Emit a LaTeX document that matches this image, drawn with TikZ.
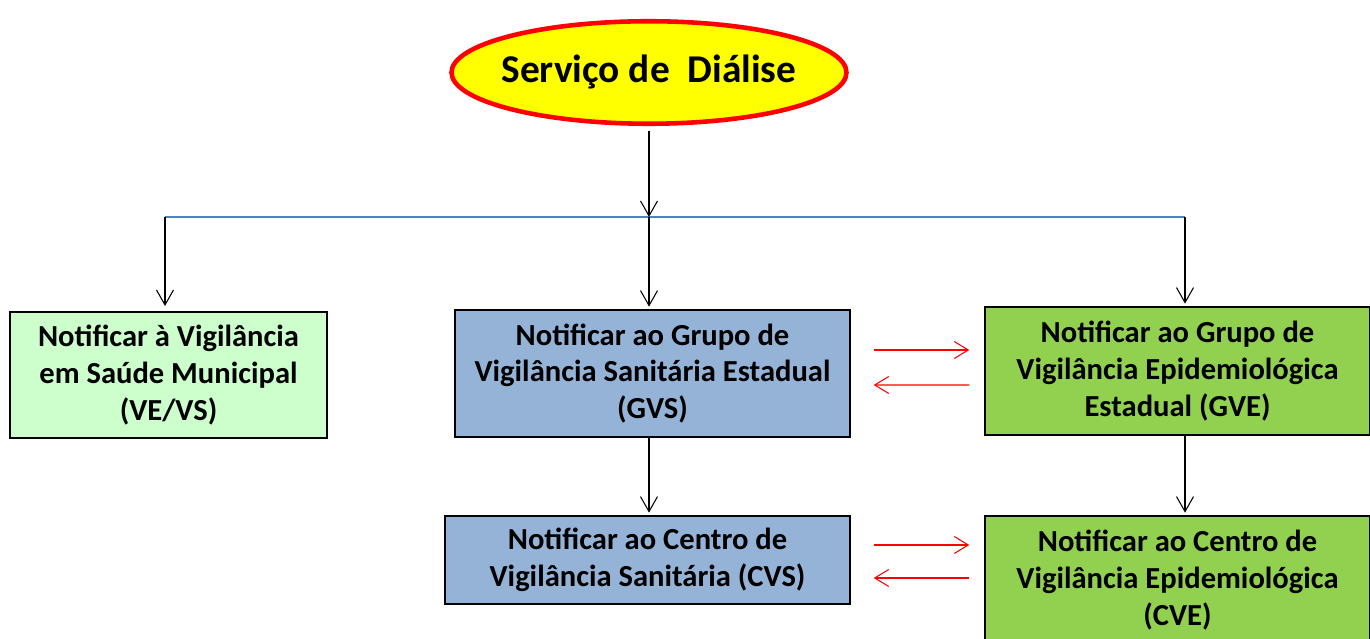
\documentclass[tikz,border=0pt]{standalone}
\usepackage{fontspec}
\setmainfont{Carlito}
\usetikzlibrary{arrows.meta,shapes.geometric,shadows}
\definecolor{amarelo}{HTML}{FFFF00}
\definecolor{verdeclaro}{HTML}{CCFFCC}
\definecolor{azulcaixa}{HTML}{95B3D7}
\definecolor{verdecaixa}{HTML}{92D050}
\definecolor{azullinha}{HTML}{4F81BD}
\begin{document}
\begin{tikzpicture}[
	caixa/.style={draw=black, line width=0.8pt, align=center, inner sep=0pt,
		font=\fontsize{17.4}{21}\selectfont\bfseries,
		drop shadow={shadow xshift=0.6pt, shadow yshift=-0.6pt, opacity=0.45}},
	seta/.style={-{Straight Barb[length=3mm,width=3.4mm]}, line width=0.6pt},
	setav/.style={-{Straight Barb[length=2.8mm,width=3.4mm]}, red, line width=0.6pt}
	]
	\useasboundingbox (0,0) rectangle (27.4,12.76);

	\node[ellipse, draw=red, line width=2.6pt, fill=amarelo, inner sep=0pt, minimum width=7.9cm, minimum height=2.05cm,
		font=\fontsize{22.4}{26}\selectfont\bfseries] (dialise) at (12.98,11.31) {\makebox[5cm]{Serviço de \ Diálise}};

	% caixas
	\node[caixa, fill=verdeclaro, minimum width=6.34cm, minimum height=2.52cm] (vevs) at (3.37,5.26)
		{Notificar à Vigilância\\em Saúde Municipal\\(VE/VS)};
	\node[caixa, fill=azulcaixa, minimum width=7.9cm, minimum height=2.54cm] (gvs) at (13.05,5.29)
		{Notificar ao Grupo de\\Vigilância Sanitária Estadual\\(GVS)};
	\node[caixa, fill=verdecaixa, minimum width=7.7cm, minimum height=2.56cm] (gve) at (23.55,5.34)
		{Notificar ao Grupo de\\Vigilância Epidemiológica\\Estadual (GVE)};
	\node[caixa, fill=azulcaixa, minimum width=8.1cm, minimum height=1.76cm] (cvs) at (12.95,1.56)
		{Notificar ao Centro de\\Vigilância Sanitária (CVS)};
	\node[caixa, fill=verdecaixa, minimum width=7.7cm, minimum height=2.56cm] (cve) at (23.55,1.16)
		{Notificar ao Centro de\\Vigilância Epidemiológica\\(CVE)};

	% linha de distribuicao
	\coordinate (esq) at (3.3,8.42);
	\coordinate (meio) at (12.98,8.42);
	\coordinate (dir) at (23.7,8.42);
	\draw[azullinha, line width=0.8pt] (esq) -- (dir);

	\draw[seta, shorten <=3pt] (dialise.south) -- (meio);
	\draw[seta, shorten >=3pt] (esq) -- (esq |- vevs.north);
	\draw[seta, shorten >=1.5pt] (meio) -- (meio |- gvs.north);
	\draw[seta, shorten >=1.5pt] (dir) -- (dir |- gve.north);
	\draw[seta, shorten >=1.5pt] (gvs.south -| meio) -- (cvs.north -| meio);
	\draw[seta, shorten >=1.5pt] (gve.south -| dir) -- (cve.north -| dir);

	% setas vermelhas
	\draw[setav] ([shift={(0.46,0.47)}]gvs.east) -- ([shift={(-0.3,0.42)}]gve.west);
	\draw[setav] ([shift={(-0.3,-0.28)}]gve.west) -- ([shift={(0.46,-0.23)}]gvs.east);
	\draw[setav] ([shift={(0.46,0.3)}]cvs.east) -- ([shift={(-0.3,0.3)}]cvs.east -| cve.west);
	\draw[setav] ([shift={(-0.3,-0.36)}]cvs.east -| cve.west) -- ([shift={(0.46,-0.36)}]cvs.east);
\end{tikzpicture}
\end{document}
